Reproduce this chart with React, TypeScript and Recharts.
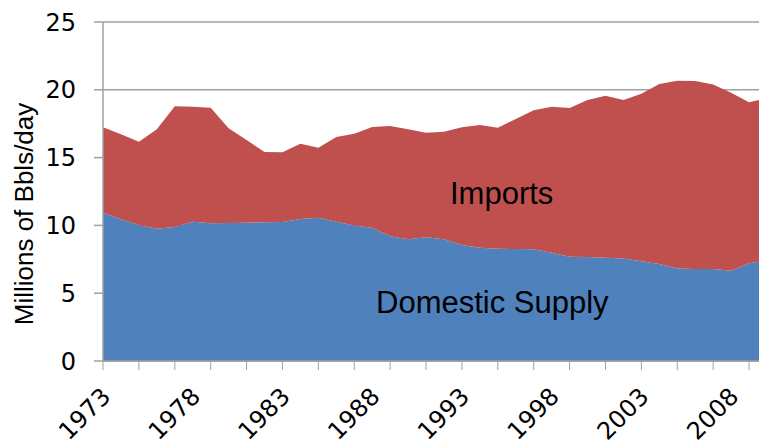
import { Area, AreaChart, CartesianGrid, XAxis, YAxis } from "recharts";

const YEARS = [
  1973, 1974, 1975, 1976, 1977, 1978, 1979, 1980, 1981, 1982,
  1983, 1984, 1985, 1986, 1987, 1988, 1989, 1990, 1991, 1992,
  1993, 1994, 1995, 1996, 1997, 1998, 1999, 2000, 2001, 2002,
  2003, 2004, 2005, 2006, 2007, 2008, 2009, 2010,
];

// millions of barrels per day
const DOMESTIC = [
  10.94, 10.45, 10.03, 9.76, 9.88, 10.27, 10.15, 10.18, 10.2, 10.23,
  10.25, 10.47, 10.57, 10.27, 10.0, 9.83, 9.2, 8.97, 9.12, 8.97,
  8.55, 8.36, 8.28, 8.26, 8.24, 7.99, 7.69, 7.67, 7.62, 7.55,
  7.35, 7.15, 6.83, 6.78, 6.78, 6.66, 7.2, 7.42,
];

const IMPORTS = [
  6.29, 6.27, 6.14, 7.33, 8.9, 8.48, 8.53, 6.98, 6.1, 5.18,
  5.14, 5.56, 5.16, 6.25, 6.76, 7.43, 8.13, 8.12, 7.72, 7.94,
  8.68, 9.04, 8.92, 9.59, 10.25, 10.76, 10.97, 11.58, 11.95, 11.7,
  12.36, 13.28, 13.84, 13.87, 13.62, 13.13, 11.88, 11.96,
];

const Y_TICKS = [0, 5, 10, 15, 20, 25];

const BLUE = "#4f81bd";
const RED = "#c0504d";
const GRID = "#a0a0a0";
const TICK_FONT = "'DejaVu Sans', Verdana, sans-serif";
const LABEL_FONT = "'Liberation Sans', Arial, sans-serif";

const data = YEARS.map((year, i) => ({
  year,
  domestic: DOMESTIC[i],
  imports: IMPORTS[i],
}));

function YearTick(props: any) {
  const { x, y, payload } = props;
  const k = payload.value - YEARS[0];
  const tx = x + 9;
  const ty = y + 37;
  return (
    <g>
      {k % 2 === 0 ? (
        <line x1={x} x2={x} y1={y} y2={y + 9} stroke={GRID} strokeWidth={1} />
      ) : null}
      {k % 5 === 0 ? (
        <text
          x={tx}
          y={ty}
          transform={`rotate(-45, ${tx}, ${ty})`}
          textAnchor="end"
          fontFamily={TICK_FONT}
          fontSize={24}
          fill="#000"
        >
          {payload.value}
        </text>
      ) : null}
    </g>
  );
}

export default function App() {
  return (
    <div
      style={{
        position: "absolute",
        left: 0,
        top: 0,
        width: 759,
        height: 445,
        overflow: "hidden",
        background: "#fff",
      }}
    >
      <AreaChart
        width={780}
        height={445}
        data={data}
        margin={{ top: 22, right: 13, bottom: 0, left: 0 }}
      >
        <CartesianGrid vertical={false} stroke={GRID} strokeWidth={1.5} />
        <XAxis
          dataKey="year"
          type="number"
          domain={[1973, 2010]}
          ticks={YEARS.slice(0, -1)}
          interval={0}
          tickSize={0}
          tickMargin={0}
          height={84}
          axisLine={{ stroke: GRID, strokeWidth: 1.5 }}
          tick={<YearTick />}
        />
        <YAxis
          domain={[0, 25]}
          ticks={Y_TICKS}
          width={103}
          tickSize={9}
          tickMargin={18}
          axisLine={{ stroke: GRID, strokeWidth: 1.5 }}
          tickLine={{ stroke: GRID, strokeWidth: 1.5 }}
          tick={{ fontFamily: TICK_FONT, fontSize: 24, fill: "#000" }}
        />
        <Area
          type="linear"
          dataKey="domestic"
          stackId="supply"
          stroke="none"
          fill={BLUE}
          fillOpacity={1}
          isAnimationActive={false}
        />
        <Area
          type="linear"
          dataKey="imports"
          stackId="supply"
          stroke="none"
          fill={RED}
          fillOpacity={1}
          isAnimationActive={false}
        />
      </AreaChart>
      <svg
        width={759}
        height={445}
        style={{ position: "absolute", left: 0, top: 0, pointerEvents: "none" }}
      >
        <text
          x={32.5}
          y={214}
          transform="rotate(-90, 32.5, 214)"
          textAnchor="middle"
          fontFamily={LABEL_FONT}
          fontSize={26}
          fill="#000"
        >
          Millions of Bbls/day
        </text>
        <text x={450} y={204} fontFamily={LABEL_FONT} fontSize={31} fill="#000">
          Imports
        </text>
        <text x={376} y={313} fontFamily={LABEL_FONT} fontSize={31} fill="#000">
          Domestic Supply
        </text>
      </svg>
    </div>
  );
}
